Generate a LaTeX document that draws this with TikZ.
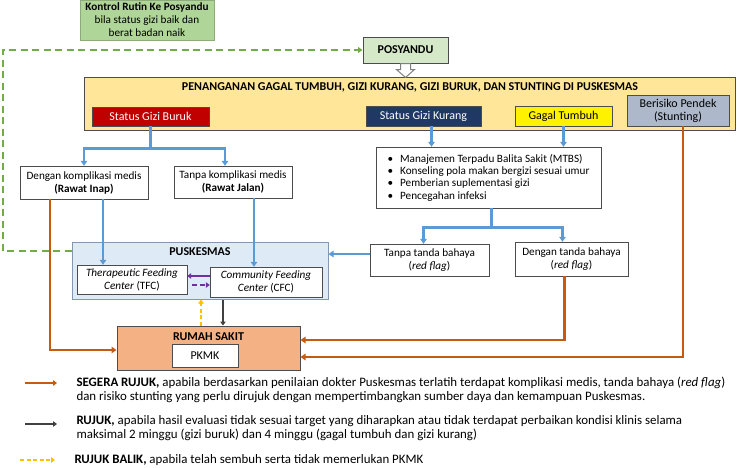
\documentclass[tikz,border=0pt]{standalone}
\usepackage{fontspec}
\setmainfont{Carlito}
\usepackage{xcolor}
\usetikzlibrary{arrows.meta,positioning}

\definecolor{kontrolgreen}{HTML}{B0D598}
\definecolor{posygreen}{HTML}{D5E8C8}
\definecolor{mainyellow}{HTML}{FFE699}
\definecolor{buruknred}{HTML}{C00000}
\definecolor{kurangnavy}{HTML}{1F3864}
\definecolor{pendekgray}{HTML}{ADB9CA}
\definecolor{lineblue}{HTML}{5B9BD5}
\definecolor{puskblue}{HTML}{DEEBF7}
\definecolor{puskborder}{HTML}{8497B0}
\definecolor{rsorange}{HTML}{F4B183}
\definecolor{lineorange}{HTML}{C55A11}
\definecolor{linepurple}{HTML}{7030A0}
\definecolor{linedark}{HTML}{404040}
\definecolor{lineyellow}{HTML}{FFC000}
\definecolor{linegreen}{HTML}{70AD47}

\begin{document}
\begin{tikzpicture}[
    x=1pt, y=-1pt,
    txt/.style={font=\fontsize{11.2}{13}\selectfont},
    box/.style={rectangle, draw=black!70, fill=white, align=center, inner sep=0pt, txt},
    status/.style={box, font=\fontsize{12}{14}\selectfont},
    heading/.style={font=\fontsize{12}{14}\selectfont\bfseries},
    tip/.style={-{Triangle[length=5pt,width=6.5pt]}},
    bline/.style={draw=lineblue, line width=2.7pt},
    barrow/.style={bline, tip},
    oarrow/.style={draw=lineorange, line width=2.7pt, tip},
    parrow/.style={draw=linepurple, line width=1.8pt, -{Triangle[length=4pt,width=5.5pt]}},
    karrow/.style={draw=linedark, line width=1.8pt, -{Triangle[length=4pt,width=5.5pt]}},
    yarrow/.style={draw=lineyellow, line width=1.8pt, dash pattern=on 4pt off 2.5pt, -{Triangle[length=4pt,width=5.5pt]}},
    garrow/.style={draw=linegreen, line width=2pt, dash pattern=on 7pt off 4.5pt, -{Triangle[length=4.5pt,width=6pt]}},
    legend/.style={anchor=west, align=left, font=\fontsize{12.9}{14}\selectfont}
]
\useasboundingbox (0,0) rectangle (737,467);

% top
\node[box, minimum width=134pt, minimum height=40pt, fill=kontrolgreen, draw=kontrolgreen!80!black] (kontrol) at (147,20)
    {\textbf{Kontrol Rutin Ke Posyandu}\\bila status gizi baik dan\\berat badan naik};
\node[box, minimum width=85pt, minimum height=26pt, fill=posygreen, line width=1pt, heading] (posyandu) at (405.5,50) {POSYANDU};
\node[box, minimum width=651pt, minimum height=53pt, fill=mainyellow, line width=1pt] (main) at (409.5,103.5) {};
\node[heading] (title) at (410,87)
    {PENANGANAN GAGAL TUMBUH, GIZI KURANG, GIZI BURUK, DAN STUNTING DI PUSKESMAS};
\draw[draw=black!50, fill=white, line width=1pt] (posyandu.south) ++(-5,0) -- ++(10,0) -- ++(0,6) -- ++(4,0)
    -- ++(-9,8) -- ++(-9,-8) -- ++(4,0) -- cycle;

% status
\node[status, minimum width=117pt, minimum height=19pt, fill=buruknred, text=white] (buruk) at (150.5,116.5) {Status Gizi Buruk};
\node[status, minimum width=115pt, minimum height=20pt, fill=kurangnavy, text=white] (kurang) at (423.5,116) {Status Gizi Kurang};
\node[status, minimum width=97pt, minimum height=20pt, fill=yellow] (gagal) at (563.5,116) {Gagal Tumbuh};
\node[status, minimum width=102pt, minimum height=31pt, fill=pendekgray, font=\fontsize{12}{13}\selectfont] (pendek) at (678,110.5) {Berisiko Pendek\\(Stunting)};

% middle
\node[box, minimum width=128pt, minimum height=33pt] (inap) at (84,182.5) {Dengan komplikasi medis\\\textbf{(Rawat Inap)}};
\node[box, minimum width=118pt, minimum height=32pt] (jalan) at (233,182) {Tanpa komplikasi medis\\\textbf{(Rawat Jalan)}};
\node[box, minimum width=225pt, minimum height=61pt, align=left, font=\fontsize{11.2}{12.4}\selectfont] (mtbs) at (488.5,177.5)
    {\textbullet\hspace{7pt}Manajemen Terpadu Balita Sakit (MTBS)\\
     \textbullet\hspace{7pt}Konseling pola makan bergizi sesuai umur\\
     \textbullet\hspace{7pt}Pemberian suplementasi gizi\\
     \textbullet\hspace{7pt}Pencegahan infeksi};
\node[box, minimum width=119pt, minimum height=32pt] (tanpa) at (429.5,260) {Tanpa tanda bahaya\\(\textit{red flag})};
\node[box, minimum width=113pt, minimum height=34pt] (dengan) at (571.5,259) {Dengan tanda bahaya\\(\textit{red flag})};

% puskesmas
\node[box, minimum width=256pt, minimum height=57pt, fill=puskblue, draw=puskborder, line width=1pt] (puskesmas) at (200,270.5) {};
\node[heading] (pusktitle) at (200,252) {PUSKESMAS};
\node[box, minimum width=110pt, minimum height=29pt] (tfc) at (132,279.5) {\textit{Therapeutic Feeding}\\\textit{Center} (TFC)};
\node[box, minimum width=112pt, minimum height=30pt] (cfc) at (266,282) {\textit{Community Feeding}\\\textit{Center} (CFC)};

% rumah sakit
\node[box, minimum width=183pt, minimum height=44pt, fill=rsorange, line width=1pt] (rs) at (208.5,348) {};
\node[heading] (rstitle) at (208.5,337) {RUMAH SAKIT};
\node[box, minimum width=66pt, minimum height=23pt, font=\fontsize{12}{14}\selectfont] (pkmk) at (205,355.5) {PKMK};

% blue
\draw[bline] (buruk.south) -- ++(0,22) coordinate (bj);
\draw[barrow] (bj) -| (inap.north);
\draw[barrow] (bj) -| ([xshift=-8pt]jalan.north);
\path (kurang.south) ++(8,0) coordinate (k1);
\draw[barrow] (k1) -- (k1 |- mtbs.north);
\draw[barrow] (gagal.south) -- (gagal.south |- mtbs.north);
\draw[bline] ([xshift=3pt]mtbs.south) -- ++(0,19) coordinate (mj);
\draw[barrow] (mj) -| ([xshift=-6pt]tanpa.north);
\draw[barrow] (mj) -| ([xshift=-9pt]dengan.north);
\coordinate (t1) at ([yshift=6pt]tanpa.west);
\draw[barrow] (t1) -- (t1 -| puskesmas.east);
\draw[barrow] ([xshift=19pt]inap.south) -- ([xshift=-29pt]tfc.north);
\draw[barrow] ([xshift=21pt]jalan.south) -- ([xshift=-12pt]cfc.north);

% purple
\coordinate (c1) at ([yshift=6pt]cfc.west);
\draw[parrow] (c1) -- (c1 -| tfc.east);
\coordinate (c2) at ([yshift=-3pt]cfc.west);
\draw[parrow, dash pattern=on 5pt off 3pt] ([xshift=5pt]c2 -| tfc.east) -- (c2);

% rujuk
\draw[karrow] ([xshift=23pt]puskesmas.south) -- ([xshift=14.5pt]rs.north);
\draw[yarrow] ([xshift=-7.5pt]rs.north) -- ([xshift=1pt]puskesmas.south);

% orange
\draw[oarrow] ([xshift=-34pt]inap.south) |- ([yshift=-2pt]rs.west);
\draw[oarrow] ([xshift=-7pt]dengan.south) |- ([yshift=8pt]rs.east);
\draw[oarrow] ([xshift=5pt]pendek.south) |- ([yshift=-9pt]rs.east);

% green
\draw[garrow] ([yshift=20pt]puskesmas.west) -- ++(-69,0) |- (posyandu.west);

% legend
\node[legend] (leg1) at (73,390) {\textbf{SEGERA RUJUK,} apabila berdasarkan penilaian dokter Puskesmas terlatih terdapat komplikasi medis, tanda bahaya (\textit{red flag})\\dan risiko stunting yang perlu dirujuk dengan mempertimbangkan sumber daya dan kemampuan Puskesmas.};
\node[legend] (leg2) at (73,428.5) {\textbf{RUJUK,} apabila hasil evaluasi tidak sesuai target yang diharapkan atau tidak terdapat perbaikan kondisi klinis selama\\maksimal 2 minggu (gizi buruk) dan 4 minggu (gagal tumbuh dan gizi kurang)};
\node[legend] (leg3) at (71,460) {\textbf{RUJUK BALIK,} apabila telah sembuh serta tidak memerlukan PKMK};
\coordinate (l1a) at (25,383); \coordinate (l1b) at (57,383);
\coordinate (l2a) at (25,424); \coordinate (l2b) at (57,424);
\coordinate (l3a) at (20,460); \coordinate (l3b) at (55,460);
\draw[draw=lineorange, line width=1.8pt, -{Triangle[length=4pt,width=5.5pt]}] (l1a) -- (l1b);
\draw[karrow] (l2a) -- (l2b);
\draw[yarrow] (l3a) -- (l3b);
\end{tikzpicture}
\end{document}
